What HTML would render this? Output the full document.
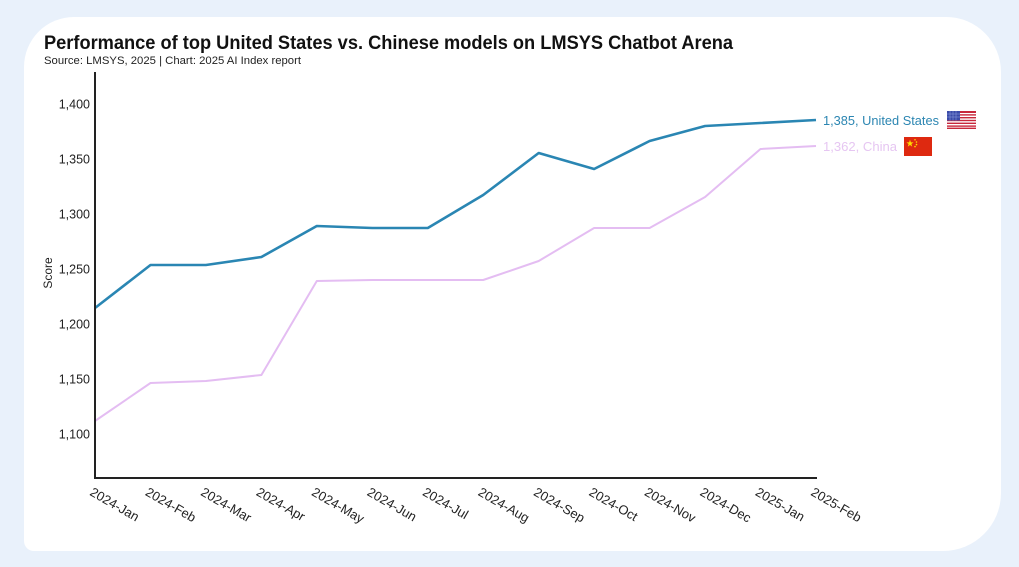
<!DOCTYPE html>
<html>
<head>
<meta charset="utf-8">
<style>
  html, body { margin:0; padding:0; background:#e9f1fb; }
  svg { display:block; }
  text { font-family: "Liberation Sans", "DejaVu Sans", sans-serif; }
</style>
</head>
<body>
<svg width="1019" height="567" viewBox="0 0 1019 567" xmlns="http://www.w3.org/2000/svg">
  <rect x="0" y="0" width="1019" height="567" fill="#e9f1fb"/>
  <path d="M74,17 H946 A55,55 0 0 1 1001,72 V493 A58,58 0 0 1 943,551 H34 A10,10 0 0 1 24,541 V67 A50,50 0 0 1 74,17 Z" fill="#ffffff"/>

  <!-- Title -->
  <text x="44" y="49" font-size="19" font-weight="bold" fill="#111" textLength="689" lengthAdjust="spacingAndGlyphs">Performance of top United States vs. Chinese models on LMSYS Chatbot Arena</text>
  <text x="44" y="64" font-size="11" fill="#222" textLength="257" lengthAdjust="spacingAndGlyphs">Source: LMSYS, 2025 | Chart: 2025 AI Index report</text>

  <!-- Y tick labels -->
  <g font-size="12.5" fill="#222" text-anchor="end">
    <text x="90" y="108.5">1,400</text>
    <text x="90" y="163.5">1,350</text>
    <text x="90" y="218.5">1,300</text>
    <text x="90" y="273.5">1,250</text>
    <text x="90" y="328.5">1,200</text>
    <text x="90" y="383.5">1,150</text>
    <text x="90" y="438.5">1,100</text>
  </g>
  <text transform="translate(52,273) rotate(-90)" font-size="12" fill="#222" text-anchor="middle">Score</text>

  <!-- Series -->
  <polyline fill="none" stroke="#e4bdf2" stroke-width="2" stroke-linejoin="round"
    points="95,421 150.5,383 205.9,381 261.4,375 316.8,281 372.3,280 427.8,280 483.2,280 538.7,261 594.1,228 649.6,228 705.1,197 760.5,149 816,146"/>
  <polyline fill="none" stroke="#2a86b3" stroke-width="2.6" stroke-linejoin="round"
    points="95,308 150.5,265 205.9,265 261.4,257 316.8,226 372.3,228 427.8,228 483.2,195 538.7,153 594.1,169 649.6,141 705.1,126 760.5,123 816,120"/>

  <!-- Axes -->
  <line x1="95" y1="72" x2="95" y2="479" stroke="#222" stroke-width="2"/>
  <line x1="94" y1="478" x2="817" y2="478" stroke="#222" stroke-width="2"/>

  <!-- X tick labels -->
  <g font-size="13" fill="#222">
    <text transform="translate(94,486) rotate(30)" x="0" y="10">2024-Jan</text>
    <text transform="translate(149.5,486) rotate(30)" x="0" y="10">2024-Feb</text>
    <text transform="translate(204.9,486) rotate(30)" x="0" y="10">2024-Mar</text>
    <text transform="translate(260.4,486) rotate(30)" x="0" y="10">2024-Apr</text>
    <text transform="translate(315.8,486) rotate(30)" x="0" y="10">2024-May</text>
    <text transform="translate(371.3,486) rotate(30)" x="0" y="10">2024-Jun</text>
    <text transform="translate(426.8,486) rotate(30)" x="0" y="10">2024-Jul</text>
    <text transform="translate(482.2,486) rotate(30)" x="0" y="10">2024-Aug</text>
    <text transform="translate(537.7,486) rotate(30)" x="0" y="10">2024-Sep</text>
    <text transform="translate(593.1,486) rotate(30)" x="0" y="10">2024-Oct</text>
    <text transform="translate(648.6,486) rotate(30)" x="0" y="10">2024-Nov</text>
    <text transform="translate(704.1,486) rotate(30)" x="0" y="10">2024-Dec</text>
    <text transform="translate(759.5,486) rotate(30)" x="0" y="10">2025-Jan</text>
    <text transform="translate(815,486) rotate(30)" x="0" y="10">2025-Feb</text>
  </g>

  <!-- End labels -->
  <text x="823" y="125" font-size="12.5" fill="#2c86b2" textLength="116" lengthAdjust="spacingAndGlyphs">1,385, United States</text>
  <text x="823" y="151" font-size="12.5" fill="#e6c6f2" textLength="74" lengthAdjust="spacingAndGlyphs">1,362, China</text>

  <!-- US flag -->
  <g>
    <rect x="947" y="111" width="29" height="18" fill="#ffffff"/>
    <rect x="947" y="111" width="29" height="2" fill="#c8283c"/>
    <rect x="947" y="114.2" width="29" height="1.4" fill="#c8283c"/>
    <rect x="947" y="117" width="29" height="1.4" fill="#c8283c"/>
    <rect x="947" y="119.8" width="29" height="1.4" fill="#c8283c"/>
    <rect x="947" y="122.6" width="29" height="1.4" fill="#c8283c"/>
    <rect x="947" y="125.4" width="29" height="1.4" fill="#c8283c"/>
    <rect x="947" y="127.6" width="29" height="1.4" fill="#c8283c"/>
    <rect x="947" y="111" width="13" height="9.5" fill="#3a4aa8"/>
    <g stroke="#8fa0e0" stroke-width="0.5">
      <line x1="950" y1="111" x2="950" y2="120.5"/>
      <line x1="953" y1="111" x2="953" y2="120.5"/>
      <line x1="956" y1="111" x2="956" y2="120.5"/>
      <line x1="947" y1="114" x2="960" y2="114"/>
      <line x1="947" y1="117" x2="960" y2="117"/>
    </g>
  </g>

  <!-- China flag -->
  <g>
    <rect x="904" y="137" width="28" height="19" fill="#de2910"/>
    <polygon points="910,139.8 910.9,142.4 913.6,142.4 911.4,144 912.2,146.6 910,145 907.8,146.6 908.6,144 906.4,142.4 909.1,142.4" fill="#ffde00"/>
    <circle cx="915" cy="139.8" r="0.8" fill="#ffde00"/>
    <circle cx="916.5" cy="142" r="0.8" fill="#ffde00"/>
    <circle cx="916.5" cy="144.6" r="0.8" fill="#ffde00"/>
    <circle cx="915" cy="146.6" r="0.8" fill="#ffde00"/>
  </g>
</svg>
</body>
</html>
